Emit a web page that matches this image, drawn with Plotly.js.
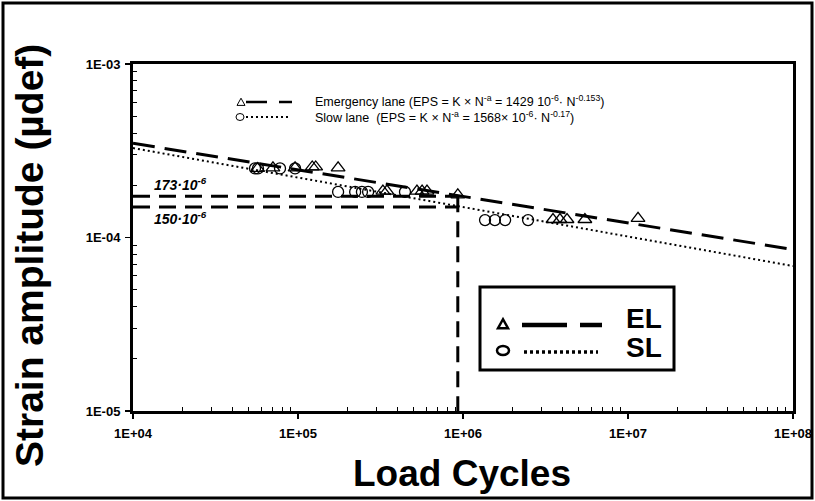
<!DOCTYPE html>
<html>
<head>
<meta charset="utf-8">
<script src="https://cdn.plot.ly/plotly-3.0.1.min.js"></script>
<style>
html,body{margin:0;padding:0;background:#fff;}
#chart{width:815px;height:501px;}
</style>
</head>
<body>
<div id="chart"></div>
<script>
// ---- data ----
const elCycles = [5.7e4, 7.05e4, 9.6e4, 1.22e5, 1.28e5, 1.75e5, 3.27e5, 3.46e5, 5.26e5, 5.65e5, 6.05e5, 9.3e5, 3.51e6, 3.87e6, 4.27e6, 5.48e6, 1.15e7];
const elStrain = [2.50e-4, 2.52e-4, 2.52e-4, 2.55e-4, 2.55e-4, 2.52e-4, 1.85e-4, 1.85e-4, 1.85e-4, 1.85e-4, 1.85e-4, 1.76e-4, 1.27e-4, 1.27e-4, 1.27e-4, 1.27e-4, 1.29e-4];
const slCycles = [5.49e4, 5.72e4, 7.78e4, 9.6e4, 1.75e5, 2.22e5, 2.44e5, 2.66e5, 4.45e5, 1.36e6, 1.56e6, 1.80e6, 2.48e6];
const slStrain = [2.50e-4, 2.50e-4, 2.50e-4, 2.50e-4, 1.83e-4, 1.83e-4, 1.83e-4, 1.83e-4, 1.83e-4, 1.26e-4, 1.26e-4, 1.26e-4, 1.26e-4];
// fitted power laws (end points read at the axis limits)
const elFitCycles = [1e4, 1e8];
const elFitStrain = [349e-6, 85.3e-6];
const slFitCycles = [1e4, 1e8];
const slFitStrain = [327.6e-6, 68.5e-6];
// design reference lines
const refCycles = 9.3e5;
const refStrainEL = 173e-6;
const refStrainSL = 150e-6;
// ticks
const xTickVals = [1e4, 1e5, 1e6, 1e7, 1e8];
const xTickText = ["1E+04", "1E+05", "1E+06", "1E+07", "1E+08"];
const yTickVals = [1e-5, 1e-4, 1e-3];
const yTickText = ["1E-05", "1E-04", "1E-03"];
const xMinor = [];
[1e4,1e5,1e6,1e7].forEach(d=>{for(let k=2;k<=9;k++) xMinor.push(d*k);});
const yMinor = [];
[1e-5,1e-4].forEach(d=>{for(let k=2;k<=9;k++) yMinor.push(d*k);});

// ---- pixel helpers for decorations (plot area 133..793 x 64..411) ----
const L=133, R=793, T=64, B=411;
const px = x => (x-L)/(R-L);
const py = y => (B-y)/(B-T);
const FONT = "Liberation Sans, Arial, sans-serif";

function triPath(cx, cy, s){
  return `M ${px(cx-s)},${py(cy+s*0.85)} L ${px(cx+s)},${py(cy+s*0.85)} L ${px(cx)},${py(cy-s*0.95)} Z`;
}
function line(x0,y0,x1,y1,w,dash){
  return {type:'line', xref:'paper', yref:'paper', x0:px(x0), y0:py(y0), x1:px(x1), y1:py(y1),
          line:{color:'black', width:w, dash:dash||'solid'}};
}

const traces = [
  {x: elFitCycles, y: elFitStrain, mode:'lines', line:{color:'black', width:3, dash:'22px,10px'}},
  {x: slFitCycles, y: slFitStrain, mode:'lines', line:{color:'black', width:2, dash:'2px,3px'}},
  {x: [1e4, refCycles], y: [refStrainEL, refStrainEL], mode:'lines', line:{color:'black', width:3, dash:'17px,9px'}},
  {x: [1e4, refCycles], y: [refStrainSL, refStrainSL], mode:'lines', line:{color:'black', width:3, dash:'17px,9px'}},
  {x: [refCycles, refCycles], y: [refStrainEL, 1e-5], mode:'lines', line:{color:'black', width:3, dash:'16px,9px'}},
  {x: slCycles, y: slStrain, mode:'markers', marker:{symbol:'circle-open', size:11, color:'black', line:{width:1.3, color:'black'}}},
  {x: elCycles, y: elStrain, mode:'markers', marker:{symbol:'triangle-up-open', size:12, color:'black', line:{width:1.3, color:'black'}}}
];

const shapes = [
  // outer frame
  {type:'rect', xref:'paper', yref:'paper', x0:px(3), x1:px(812), y0:py(3), y1:py(498), line:{color:'black', width:3}},
  // top legend symbols
  {type:'path', xref:'paper', yref:'paper', path: triPath(241,102,4), line:{color:'black', width:1}},
  line(246,102,267,102,2.5), line(279,102,292,102,2.5),
  {type:'circle', xref:'paper', yref:'paper', x0:px(236), x1:px(244), y0:py(113.5), y1:py(120.5), line:{color:'black', width:1}},
  line(246,117,290,117,1.8,'2px,3px'),
  // bottom legend box
  {type:'rect', xref:'paper', yref:'paper', x0:px(480), x1:px(674), y0:py(287), y1:py(370), line:{color:'black', width:3}, fillcolor:'white', layer:'above'},
  {type:'path', xref:'paper', yref:'paper', path: triPath(503,324,5), line:{color:'black', width:2.5}},
  line(522,325,567,325,4.5), line(580,325,602,325,4.5),
  {type:'circle', xref:'paper', yref:'paper', x0:px(497), x1:px(509), y0:py(346), y1:py(355), line:{color:'black', width:2.5}},
  line(524,352,598,352,3.5,'3px,3px')
];

const annotations = [
  {xref:'paper', yref:'paper', x:px(313), y:py(101), xanchor:'left', yanchor:'middle', showarrow:false,
   text:'Emergency lane (EPS = K × N<sup>-a</sup> = 1429 10<sup>-6</sup>· N<sup>-0.153</sup>)', font:{family:FONT, size:12.5, color:'black'}},
  {xref:'paper', yref:'paper', x:px(313), y:py(117), xanchor:'left', yanchor:'middle', showarrow:false,
   text:'Slow lane  (EPS = K × N<sup>-a</sup> = 1568× 10<sup>-6</sup>· N<sup>-0.17</sup>)', font:{family:FONT, size:12.5, color:'black'}},
  {xref:'paper', yref:'paper', x:px(152), y:py(184), xanchor:'left', yanchor:'middle', showarrow:false,
   text:'<b><i>173·10<sup>-6</sup></i></b>', font:{family:FONT, size:14, color:'black'}},
  {xref:'paper', yref:'paper', x:px(152), y:py(218), xanchor:'left', yanchor:'middle', showarrow:false,
   text:'<b><i>150·10<sup>-6</sup></i></b>', font:{family:FONT, size:14, color:'black'}},
  {xref:'paper', yref:'paper', x:px(644), y:py(318), xanchor:'center', yanchor:'middle', showarrow:false,
   text:'<b>EL</b>', font:{family:FONT, size:28, color:'black'}},
  {xref:'paper', yref:'paper', x:px(644), y:py(347), xanchor:'center', yanchor:'middle', showarrow:false,
   text:'<b>SL</b>', font:{family:FONT, size:28, color:'black'}},
  {xref:'paper', yref:'paper', x:px(462), y:py(473), xanchor:'center', yanchor:'middle', showarrow:false,
   text:'<b>Load Cycles</b>', font:{family:FONT, size:37, color:'black'}},
  {xref:'paper', yref:'paper', x:px(30), y:py(256), xanchor:'center', yanchor:'middle', showarrow:false, textangle:-90,
   text:'<b>Strain amplitude (µdef)</b>', font:{family:FONT, size:39, color:'black'}}
];

const axisCommon = {
  type:'log', showgrid:false, zeroline:false, showline:true, linewidth:3, linecolor:'black', mirror:true,
  ticks:'outside', ticklen:5, tickwidth:1.5, tickcolor:'black', tickmode:'array',
  tickfont:{family:FONT, size:13, color:'black'},
  minor:{ticks:'inside', ticklen:4, tickwidth:1, tickcolor:'black', tickmode:'array', showgrid:false}
};

const layout = {
  width:815, height:501,
  margin:{l:L, r:815-R, t:T, b:501-B, pad:0},
  paper_bgcolor:'white', plot_bgcolor:'white',
  showlegend:false, hovermode:false,
  xaxis: Object.assign({}, axisCommon, {range:[4,8], tickvals:xTickVals, ticktext:xTickText.map(t=>'<b>'+t+'</b>'), ticklabelstandoff:3,
    minor: Object.assign({}, axisCommon.minor, {tickvals:xMinor})}),
  yaxis: Object.assign({}, axisCommon, {range:[-5,-3], tickvals:yTickVals, ticktext:yTickText.map(t=>'<b>'+t+'</b>'), ticklabelstandoff:2,
    minor: Object.assign({}, axisCommon.minor, {tickvals:yMinor})}),
  shapes: shapes,
  annotations: annotations
};

Plotly.newPlot('chart', traces, layout, {staticPlot:true, displayModeBar:false});
</script>
</body>
</html>
